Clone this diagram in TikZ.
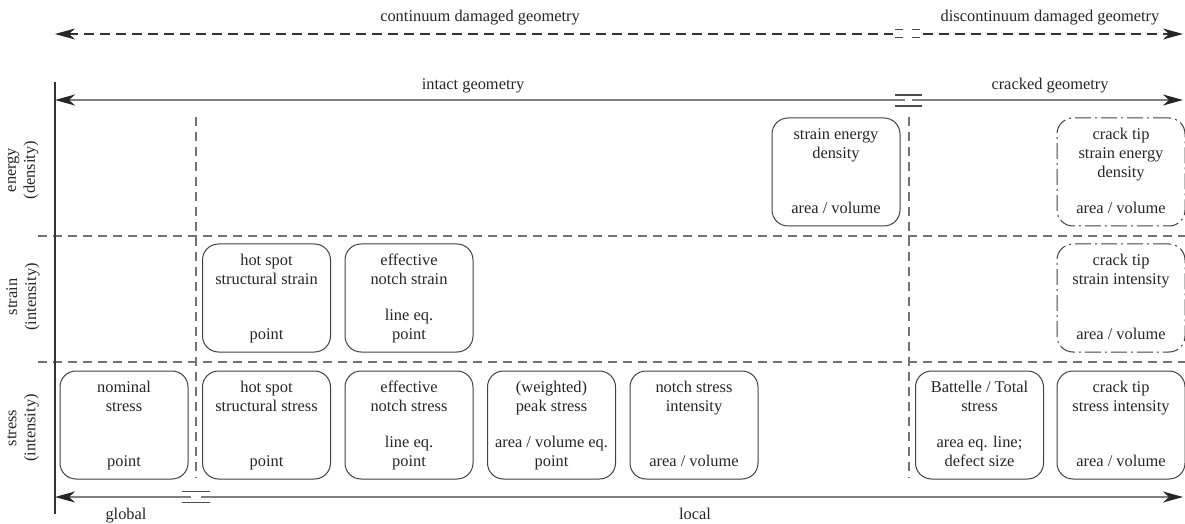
\documentclass[tikz,border=0pt]{standalone}
\usepackage{fontspec}
\setmainfont{Liberation Serif}
\usetikzlibrary{arrows.meta}
\begin{document}
\begin{tikzpicture}[x=0.5pt,y=-0.5pt,
  box/.style={draw=black!75, line width=0.5pt, rounded corners=8pt, minimum width=64pt, minimum height=54pt, inner sep=0pt},
  dbox/.style={box, dash pattern=on 8pt off 2pt on 1pt off 2pt},
  txt/.style={font=\fontsize{8.2}{9.5}\selectfont, align=center, inner sep=0pt, text=black!85},
  toptxt/.style={txt, anchor=north, yshift=-4.2pt},
  bottxt/.style={txt, anchor=south, yshift=3.6pt},
  lbl/.style={font=\fontsize{8.2}{9.5}\selectfont, align=center, inner sep=0pt, text=black!85},
  rowlbl/.style={lbl, rotate=90},
  grid/.style={draw=black!55, line width=0.6pt, dash pattern=on 4.5pt off 3pt},
  tipL/.style={{Stealth[length=10pt,width=5.5pt,inset=3pt,color=black!85]}-},
  tipR/.style={-{Stealth[length=10pt,width=5.5pt,inset=3pt,color=black!85]}},
  darrow/.style={draw=black!80, line width=0.6pt, dash pattern=on 5pt off 3pt},
  sarrow/.style={draw=black!50, line width=0.9pt},
  brk/.style={draw=black!70, line width=0.7pt}]
\useasboundingbox (0,0) rectangle (1185,524);

% ---------- coordinates ----------
\coordinate (tL) at (55,34);   \coordinate (tR) at (1183,34);
\coordinate (tb1) at (893,34); \coordinate (tb2) at (923,34);
\coordinate (iL) at (55,100);  \coordinate (iR) at (1183,100);
\coordinate (ib1) at (905,100); \coordinate (ib2) at (912,100);
\coordinate (bL) at (55,497);  \coordinate (bR) at (1183,497);
\coordinate (bb1) at (191,497); \coordinate (bb2) at (201,497);
\coordinate (axT) at (55,82);  \coordinate (axB) at (55,514);
\coordinate (h1L) at (38,236); \coordinate (h1R) at (1185,236);
\coordinate (h2L) at (38,362); \coordinate (h2R) at (1185,362);
\coordinate (v1T) at (196,117); \coordinate (v1B) at (196,478);
\coordinate (v2T) at (909,117); \coordinate (v2B) at (909,478);

% ---------- grid ----------
\draw[grid] (h1L) -- (h1R);
\draw[grid] (h2L) -- (h2R);
\draw[grid] (v1T) -- (v1B);
\draw[grid] (v2T) -- (v2B);
\draw[draw=black!80, line width=0.6pt] (axT) -- (axB);

% ---------- top dashed arrow ----------
\draw[darrow, tipL] (tL) -- (tb1);
\draw[darrow, tipR] (tb2) -- (tR);
\coordinate (tu1) at (895,29.5); \coordinate (tu2) at (921,29.5);
\coordinate (td1) at (895,37.5); \coordinate (td2) at (921,37.5);
\draw[brk, dash pattern=on 4pt off 4.5pt] (tu1) -- (tu2);
\draw[brk, dash pattern=on 4pt off 4.5pt] (td1) -- (td2);
\node[lbl] (cdg) at (480,18) {continuum damaged geometry};
\node[lbl] (ddg) at (1050,18) {discontinuum damaged geometry};

% ---------- intact arrow ----------
\draw[sarrow, tipL] (iL) -- (ib1);
\draw[sarrow, tipR] (ib2) -- (iR);
\coordinate (iu1) at (895,95); \coordinate (iu2) at (922,95);
\coordinate (id1) at (895,106); \coordinate (id2) at (922,106);
\draw[brk] (iu1) -- (iu2);
\draw[brk] (id1) -- (id2);
\node[lbl] (ig) at (473,86) {intact geometry};
\node[lbl] (cg) at (1050,86) {cracked geometry};

% ---------- bottom arrow ----------
\draw[sarrow, tipL] (bL) -- (bb1);
\draw[sarrow, tipR] (bb2) -- (bR);
\coordinate (bu1) at (182,491.5); \coordinate (bu2) at (210,491.5);
\coordinate (bd1) at (182,502.5); \coordinate (bd2) at (210,502.5);
\draw[brk] (bu1) -- (bu2);
\draw[brk] (bd1) -- (bd2);
\node[lbl] (gl) at (126,516) {global};
\node[lbl] (lo) at (695,514) {local};

% ---------- row labels ----------
\node[rowlbl] (re) at (23,170) {energy\\(density)};
\node[rowlbl] (rs) at (23,297) {strain\\(intensity)};
\node[rowlbl] (rt) at (23,428) {stress\\(intensity)};

% ---------- stress row ----------
\node[box] (b1) at (124,425) {};
\node[toptxt] at (b1.north) {\strut nominal\\stress};
\node[bottxt] at (b1.south) {point\strut};

\node[box] (b2) at (266.5,425) {};
\node[toptxt] at (b2.north) {\strut hot spot\\structural stress};
\node[bottxt] at (b2.south) {point\strut};

\node[box] (b3) at (409,425) {};
\node[toptxt] at (b3.north) {\strut effective\\notch stress};
\node[bottxt] at (b3.south) {line eq.\\point\strut};

\node[box] (b4) at (551.5,425) {};
\node[toptxt] at (b4.north) {\strut (weighted)\\peak stress};
\node[bottxt] at (b4.south) {area / volume eq.\\point\strut};

\node[box] (b5) at (694,425) {};
\node[toptxt] at (b5.north) {\strut notch stress\\intensity};
\node[bottxt] at (b5.south) {area / volume\strut};

\node[box] (b6) at (979.5,425) {};
\node[toptxt] at (b6.north) {\strut Battelle / Total\\stress};
\node[bottxt] at (b6.south) {area eq. line;\\defect size\strut};

\node[box] (b7) at (1121,425) {};
\node[toptxt] at (b7.north) {\strut crack tip\\stress intensity};
\node[bottxt] at (b7.south) {area / volume\strut};

% ---------- strain row ----------
\node[box] (s1) at (266.5,298) {};
\node[toptxt] at (s1.north) {\strut hot spot\\structural strain};
\node[bottxt] at (s1.south) {point\strut};

\node[box] (s2) at (409,298) {};
\node[toptxt] at (s2.north) {\strut effective\\notch strain};
\node[bottxt] at (s2.south) {line eq.\\point\strut};

\node[dbox] (s3) at (1121,298) {};
\node[toptxt] at (s3.north) {\strut crack tip\\strain intensity};
\node[bottxt] at (s3.south) {area / volume\strut};

% ---------- energy row ----------
\node[box] (e1) at (836,172) {};
\node[toptxt] at (e1.north) {\strut strain energy\\density};
\node[bottxt] at (e1.south) {area / volume\strut};

\node[dbox] (e2) at (1121,172) {};
\node[toptxt] at (e2.north) {\strut crack tip\\strain energy\\density};
\node[bottxt] at (e2.south) {area / volume\strut};
\end{tikzpicture}
\end{document}
